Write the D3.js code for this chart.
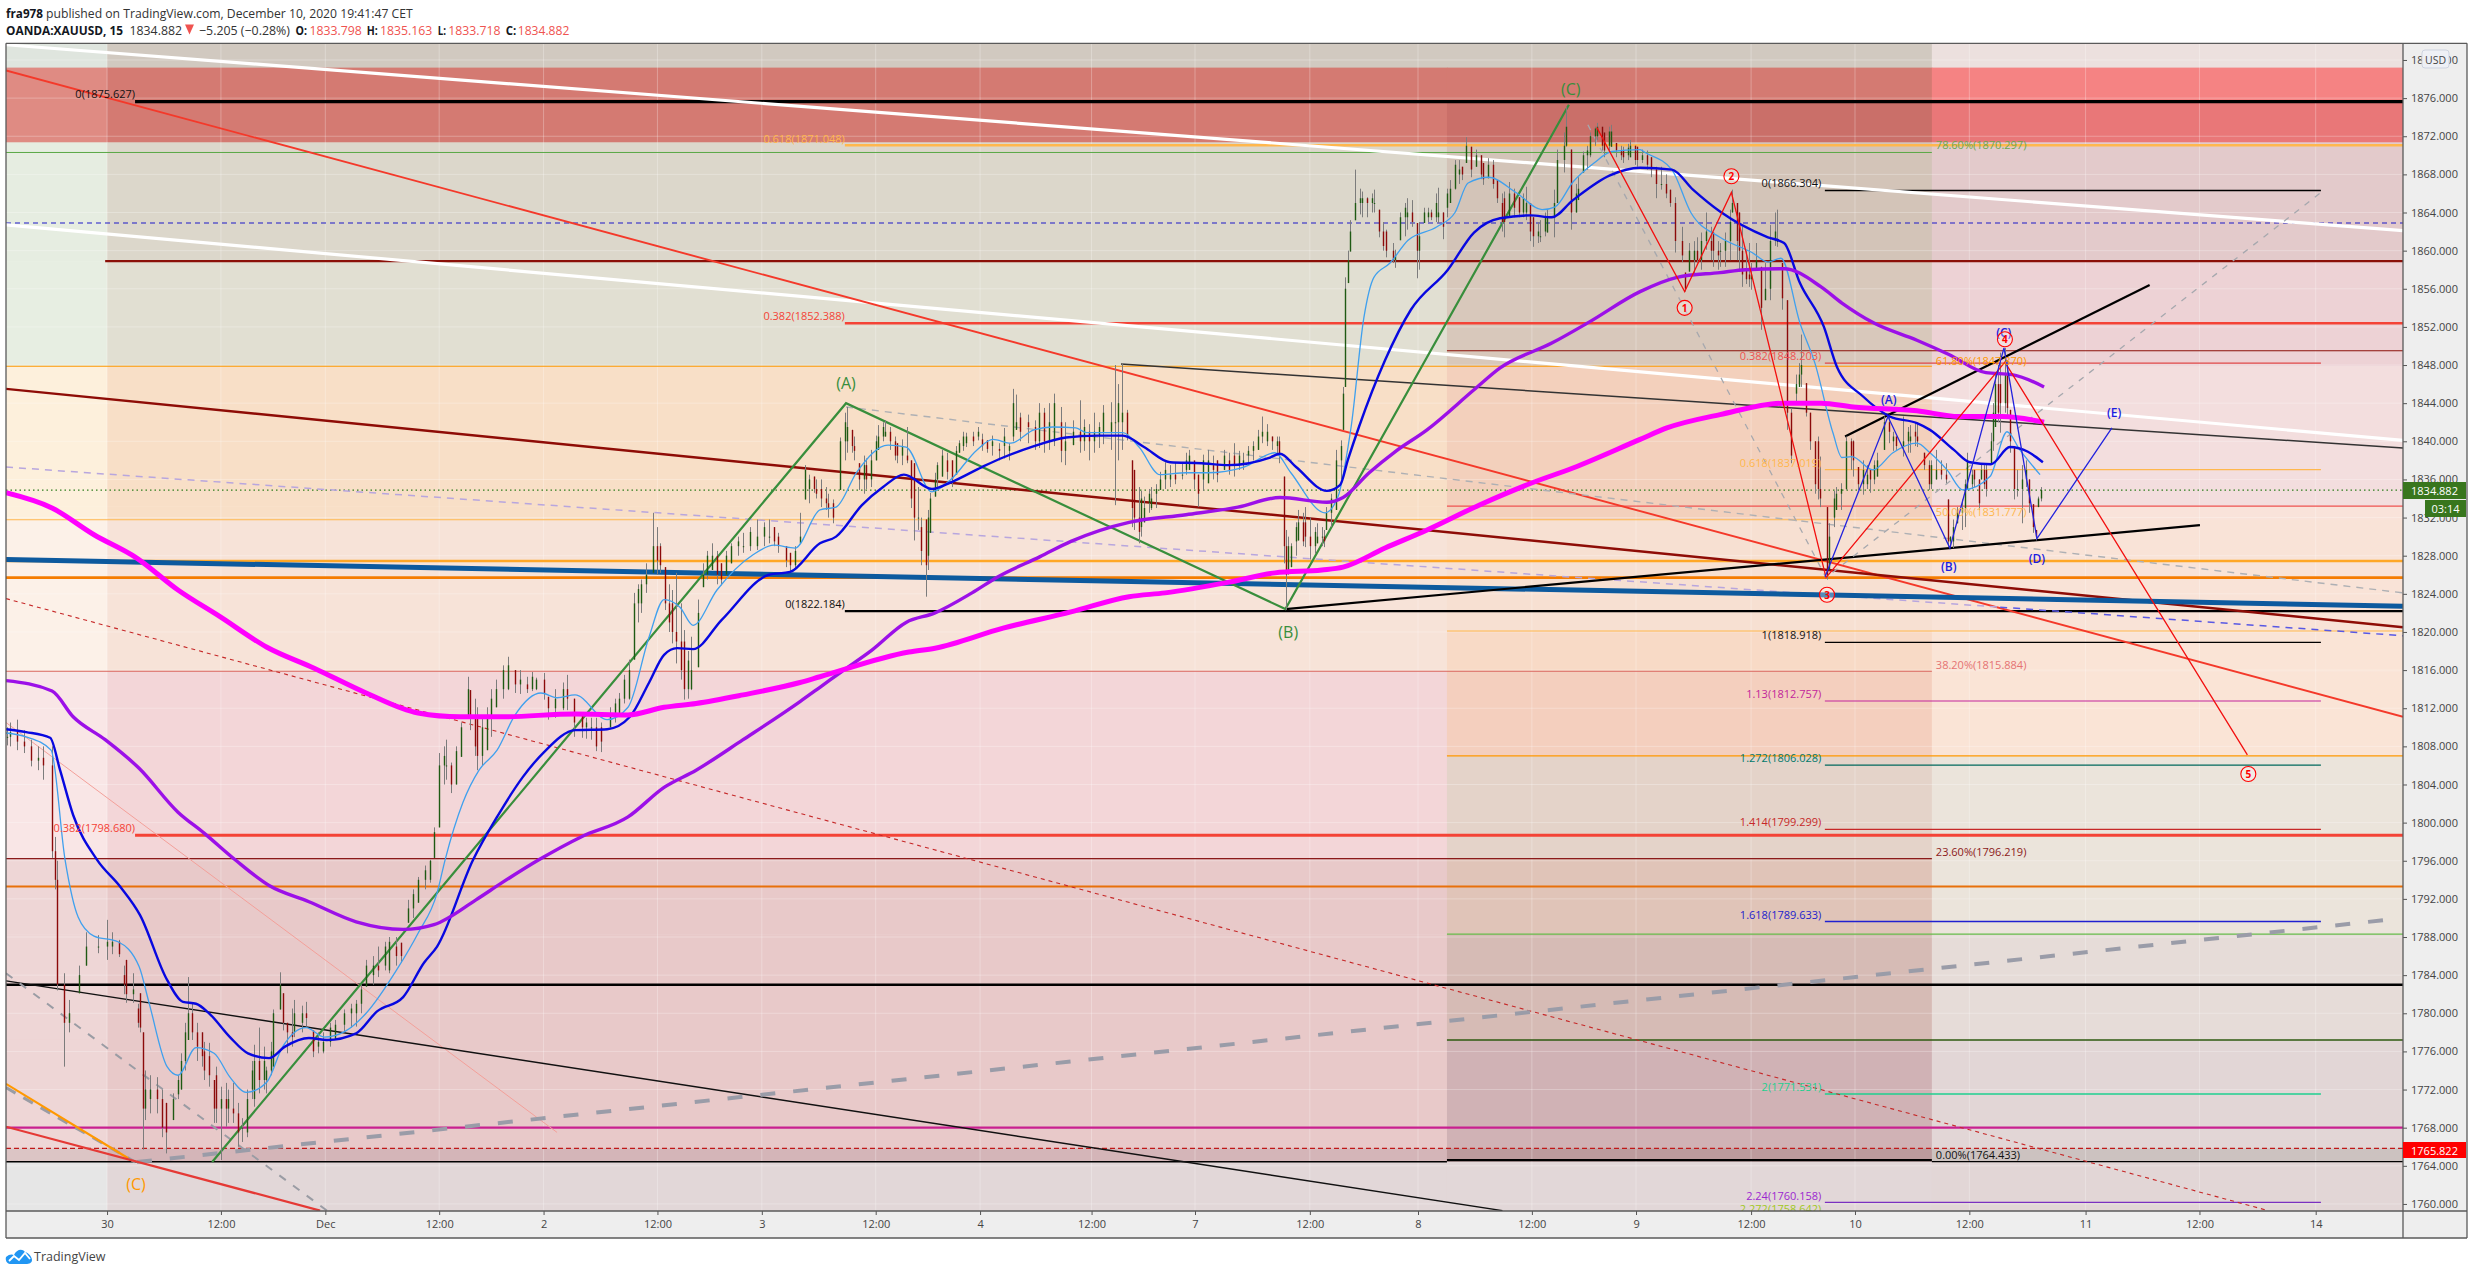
<!DOCTYPE html>
<html><head><meta charset="utf-8">
<script src="https://cdnjs.cloudflare.com/ajax/libs/d3/7.8.5/d3.min.js"></script>
<style>html,body{margin:0;padding:0;background:#fff;overflow:hidden}svg{display:block}text{font-family:"Open Sans",sans-serif}</style>
</head><body><svg id="c" width="2468" height="1275"></svg>
<script>
// ---------- axes ----------
const priceTicks=[1760,1764,1768,1772,1776,1780,1784,1788,1792,1796,1800,1804,1808,1812,1816,1820,1824,1828,1832,1836,1840,1844,1848,1852,1856,1860,1864,1868,1872,1876,1880];
const timeTickBars=[0,48,92,140,184,232,276,324,368,415,458.6,507,552.6,600.6,644.5,693,736.8,785,834,882,931];
const timeTickLabels=["30","12:00","Dec","12:00","2","12:00","3","12:00","4","12:00","7","12:00","8","12:00","9","12:00","10","12:00","11","12:00","14"];
// ---------- background zones ----------
const zoneBarBreaks=[-42.6,0,564.8,769.2,967.8];
const zonePriceBreaks=[1881.75,1879.2,1875.6,1871.36,1858.9,1847.87,1833.2,1831.78,1820.1,1815.88,1807,1796.22,1788.3,1777.2,1765.82,1764.43,1759.26];
const zoneColors=[
["#dfe5de","#d1c9c0","#d1c9c0","#ece0de"],
["#df8b83","#d47a72","#d47a72","#f58383"],
["#df8b83","#d47a72","#ca6f69","#e97778"],
["#e6ede1","#dcd7cb","#d3c4b8","#e3cacb"],
["#e7eee2","#e1dfd2","#d8c8bb","#edd2d5"],
["#fdf0dc","#f8dfc7","#f3d0bc","#f3dede"],
["#fdf0dc","#f8dfc7","#f3d0bc","#f9e3da"],
["#fcf1e8","#f7e3d8","#f7e0d2","#f9e3d7"],
["#fcf1e8","#f7e3d8","#f8dac6","#fae4d6"],
["#f9e6e6","#f3d6d8","#f4cfbe","#fae4d6"],
["#f9e6e6","#f3d6d8","#e4d3c9","#ebe4db"],
["#eed6d6","#e8c9c9","#e0c4b8","#ebe4db"],
["#eed6d6","#e8c9c9","#d6bbb5","#e6dcd8"],
["#eed6d6","#e8c9c9","#d0b2b5","#e2d6d6"],
["#dcc5c5","#d4b5b8","#bc9b9d","#ccc2c0"],
["#e6e6e6","#e2d7d8","#e2d7d8","#e2d6d6"]];
// ---------- horizontal levels: from bar, to bar, price, colour, width, dash ----------
const levels=[
[11.8,967.8,1875.627,"#000",3.2,""],
[311,967.8,1871.048,"#ffb74d",2.5,""],
[-42.6,769.2,1870.297,"#5aa845",1,""],
[-42.6,967.8,1862.9,"#1c18c8",1.2,"5 4"],
[-0.8,967.8,1858.9,"#8b1008",2.4,""],
[311,967.8,1852.388,"#f44336",2.4,""],
[564.8,967.8,1849.5,"#8b1008",1.2,""],
[724.1,933.2,1848.203,"#e04848",1.1,""],
[-42.6,769.2,1847.87,"#ff9800",1.1,""],
[724.1,933.2,1866.304,"#000",1.4,""],
[724.1,933.2,1837.019,"#ffb74d",1.2,""],
[-42.6,967.8,1834.882,"#2e7d1e",1.2,"1.5 3"],
[564.8,967.8,1833.2,"#ef5350",1.1,""],
[-42.6,769.2,1831.777,"#ffb74d",1.1,""],
[-42.6,967.8,1827.45,"#ffa726",2.6,""],
[-42.6,967.8,1825.7,"#f57c00",2.6,""],
[311,967.8,1822.184,"#000",2.2,""],
[564.8,967.8,1820.1,"#ffb74d",1.1,""],
[724.1,933.2,1818.918,"#000",1.3,""],
[-42.6,769.2,1815.884,"#d8645c",1.1,""],
[724.1,933.2,1812.757,"#c2259b",1.2,""],
[564.8,967.8,1807,"#ff9800",1.2,""],
[724.1,933.2,1806.028,"#00695c",1.3,""],
[724.1,933.2,1799.299,"#c62828",1.3,""],
[11.8,967.8,1798.68,"#f44336",3,""],
[-42.6,769.2,1796.219,"#8b1a1a",1.2,""],
[-42.6,967.8,1793.3,"#e8700a",2.2,""],
[724.1,933.2,1789.633,"#2020d0",1.4,""],
[564.8,967.8,1788.3,"#66bb4a",1.2,""],
[-42.6,967.8,1783,"#000",2.4,""],
[564.8,967.8,1777.2,"#2e5a10",1.4,""],
[724.1,933.2,1771.531,"#1fcf8f",1.4,""],
[-42.6,967.8,1768,"#c82090",2.2,""],
[-42.6,967.8,1765.822,"#c01818",1.2,"5 3"],
[-42.6,564.8,1764.433,"#000",1.4,""],
[564.8,769.2,1764.6,"#000",2.4,""],
[769.2,967.8,1764.433,"#000",1.2,""],
[724.1,933.2,1760.158,"#7b30c0",1.3,""]];
// ---------- sloped drawings ----------
const trendWhiteA=[[-42.6,1881.6],[967.8,1862.1]];
const trendWhiteB=[[-42.6,1862.7],[967.8,1840.1]];
const trendRedLong=[[-42.6,1878.9],[967.8,1811.1]];
const trendDarkRed=[[-42.6,1845.5],[967.8,1820.5]];
const trendSteel=[[-42.6,1827.6],[967.8,1822.7]];
const trendLavender=[[-42.6,1837.3],[798,1822.6]];
const trendLavenderBlue=[[798,1822.6],[967.8,1819.6]];
const trendGrayThin=[[311.5,1843.6],[967.8,1824.1]];
const trendRedDash=[[-42.6,1823.5],[911,1759.3]];
const trendPink=[[-42.6,1810.5],[189.7,1767.5]];
const trendBlackLow=[[-42.6,1783.4],[588.2,1759.3]];
const trendGrayDiag=[[-42.6,1784.2],[92.7,1759.3]];
const trendGrayWide=[[12.6,1764.4],[961,1789.8]];
const trendGrayUnder=[[-42.6,1772.2],[11.8,1764.4]];
const trendOrange=[[-42.6,1772.6],[8.9,1764.8]];
const trendRedLow=[[-42.6,1768.1],[89.8,1759.3]];
const trendBlackHigh=[[427.4,1848.1],[967.8,1839.3]];
const trendBlackB=[[496.7,1822.4],[882.2,1831.2]];
const trendBlackC=[[732.6,1840.5],[861,1856.4]];
const trendGrayV=[[624.2,1873.2],[724.6,1825.7],[933.2,1866.1]];
const waveGreen=[[44.3,1764.4],[311.5,1844],[496.7,1822.4],[616.2,1875.3]];
const waveRed=[[628,1872.9],[665,1855.7],[684.7,1866.1],[724.6,1825.7],[800,1848.3],[902.2,1807.1]];
const waveBlue=[[724.2,1825.8],[750.7,1842.6],[776.8,1828.8],[799.6,1849.8],[813.5,1829.8],[845.1,1841.4]];
// ---------- moving averages ----------
const maMagenta=[[-42.6,1834.6],[-23.2,1833],[-5.5,1830.2],[12.2,1827.8],[29.9,1824.4],[47.6,1821.6],[67.4,1818.4],[87.3,1816.2],[109.2,1813.6],[131.1,1811.5],[148.8,1811.1],[166.5,1811.1],[197.3,1811.4],[219.6,1811.3],[234.8,1812.1],[248.3,1812.5],[268.1,1813.4],[292.1,1814.7],[300.5,1815.3],[338,1817.9],[349,1818.3],[377.7,1820.4],[406.3,1822.1],[430.8,1823.7],[446,1824.1],[472.5,1825.2],[492.3,1826.2],[512.1,1826.5],[521,1826.8],[538.7,1828.8],[556.4,1830.7],[578.3,1833.3],[600.2,1835.6],[617.9,1837.2],[646.2,1840.2],[657.5,1841.4],[679.9,1842.8],[706.9,1844],[722.5,1844],[736,1843.6],[762.9,1843.2],[780.6,1842.6],[798.8,1842.6],[816.5,1842]];
const maPurple=[[-42.6,1814.9],[-23.2,1813.8],[-14.3,1811.1],[-0.8,1808.7],[13.5,1805.7],[29.9,1801.1],[40.9,1798.9],[54,1796.1],[68.3,1793.4],[85.1,1791.7],[105,1789.6],[124.8,1788.8],[137.8,1789.3],[155.5,1791.9],[166.5,1793.7],[182,1796.1],[199.8,1798.5],[219.6,1800.6],[234.8,1803.7],[248.3,1805.5],[268.1,1808.7],[292.1,1812.7],[300.5,1814.2],[309.4,1815.8],[322.4,1818.1],[336.8,1821],[349,1822],[364.6,1824.1],[375.6,1825.8],[393.3,1827.9],[406.3,1829.5],[430.8,1831.5],[454.8,1832.3],[476.7,1833.1],[494.4,1834.1],[514.2,1833.6],[521,1834.1],[532,1836.7],[542.9,1838.9],[556.4,1841.2],[576.2,1845.4],[587.2,1847.7],[609,1850.3],[624.7,1852.5],[646.2,1855.7],[661.8,1857.2],[679.9,1857.7],[690.8,1858],[706.9,1858.1],[722.5,1856.2],[731.3,1854.5],[744.8,1852.4],[762.9,1850.6],[776.4,1849.1],[792,1847.2],[803,1847],[816.5,1845.7]];
const maBlue=[[-42.6,1809.8],[-34.1,1809.5],[-24,1808.9],[-19.8,1805.5],[-14.3,1800.8],[-4.2,1796.1],[5.5,1793.3],[13.9,1790.3],[25.3,1783.5],[32,1781.2],[37.5,1781],[43,1780],[51.8,1777.5],[59.4,1775.8],[68.3,1775.3],[75,1776.5],[85.1,1777.4],[92.7,1777.2],[105,1777.9],[113.8,1780.2],[124.8,1781.7],[133.6,1785.3],[139.1,1787],[154.3,1796.1],[164.4,1800.6],[175.3,1804.8],[184.2,1807.4],[197.3,1809.7],[210.8,1809.8],[220.4,1811.1],[228.5,1814.7],[234.8,1817.6],[240.3,1818.3],[247,1818.2],[259.2,1821.3],[279,1826],[287.9,1826.3],[300.5,1829.3],[307.3,1830],[318.2,1833.3],[327.1,1835.2],[335.9,1836.5],[347.7,1835],[355.7,1835.7],[368.8,1837.3],[377.7,1838.3],[388.6,1839.3],[404.2,1840.4],[417.3,1840.6],[428.2,1840.6],[437.1,1839.4],[448.1,1837.8],[461.5,1837.7],[472.5,1837.5],[490.2,1838.3],[494.4,1838.7],[501.2,1837.3],[514.2,1834.8],[519.7,1835.4],[523.1,1838.1],[527.7,1841.5],[538.7,1848.5],[549.6,1853.8],[565.2,1858],[576.2,1861.9],[587.2,1863.4],[600.2,1863.7],[609,1863.5],[617.9,1865.3],[633.5,1867.9],[646.2,1868.7],[659.6,1868.5],[668.5,1866.4],[679.9,1864.1],[700.1,1861.4],[706.9,1860.8],[713.6,1856.6],[723.7,1852],[729.2,1847.8],[740.2,1844.7],[751.5,1842.6],[762.9,1841.9],[768.4,1841.2],[778.5,1839.1],[785.3,1837.8],[794.1,1837.6],[802.1,1839.4],[809.7,1838.9],[816,1837.8]];
const maSky=[[-42.6,1809.4],[-34.1,1809],[-23.6,1807.6],[-17.7,1796.1],[-12.2,1790.1],[-5.5,1788.1],[4.6,1787.5],[13.5,1784.9],[17.7,1781.1],[25.3,1774.4],[29.9,1773.5],[37.5,1776.4],[45.1,1775.8],[51.8,1773.3],[58.6,1771.7],[67.4,1772.8],[73.8,1776.4],[83.9,1778.5],[91.5,1777.5],[100.3,1778.1],[109.2,1780],[122.2,1784.6],[131.1,1788.4],[139.1,1792.6],[142.5,1796.1],[150,1802.1],[156.8,1805.5],[164.4,1807.6],[172,1811.3],[182.9,1813.6],[189.7,1813.1],[197.3,1813.4],[210.8,1810.8],[219.6,1812.1],[228.5,1819.5],[234.8,1823.4],[241.5,1822.6],[247,1820.7],[257.1,1824.4],[272.3,1828.1],[281.1,1829.1],[290,1828.8],[300.5,1832.8],[307.3,1833.1],[316.1,1836.8],[329.2,1839.6],[336.8,1839.4],[347.7,1834.7],[355.7,1836],[366.7,1839.1],[373.4,1840.2],[381,1839.8],[390.7,1841.2],[398.7,1841.5],[408.4,1841.4],[413,1840.9],[428.2,1840.9],[435,1839.4],[443.8,1836.5],[454.8,1836.7],[463.7,1836.7],[479.2,1837.3],[492.3,1838.8],[499,1836.7],[513.4,1832.5],[518.9,1834.2],[523.1,1839.4],[524.4,1841.5],[529.8,1853],[534,1857.2],[540.8,1858.7],[548.4,1861.1],[560.6,1862.5],[568.2,1864],[573.7,1867.1],[582.5,1867.7],[593.9,1866.1],[604.9,1864.3],[610.4,1864.6],[617.9,1867.2],[626.8,1869.2],[634.3,1870.4],[646.2,1870.6],[648.3,1870.3],[659.6,1868.5],[667.6,1864],[679.9,1861.4],[693.4,1859.8],[700.1,1858.8],[705.6,1859.2],[713.6,1852.4],[719.9,1848.2],[727.5,1840.9],[731.3,1838.3],[735.5,1838.4],[744.4,1837],[752.8,1838.8],[762.9,1839.8],[768.4,1838.8],[775.6,1837],[782.3,1834.9],[793.7,1836.3],[800.9,1841],[806.3,1839.1],[814.8,1836.5]];
// ---------- candles ----------
const candleBars=[-42,-41,-38,-35,-32,-29,-27,-23,-22,-21,-18,-16,-12,-9,-4,0,5,8,11,14,15,16,21,25,28,31,34,36,40,43,46,48,50,53,55,59,62,64,67,70,73,74,76,79,84,87,91,96,100,105,109,114,119,124,127,131,136,138,140,143,145,149,152,153,156,160,164,169,172,177,181,184,186,192,194,200,204,208,212,216,220,222,225,227,230,233,235,238,240,243,246,249,251,255,259,263,268,274,279,283,288,292,294,298,301,303,306,309,312,314,317,322,325,328,330,333,337,340,342,345,347,349,352,356,359,362,367,371,376,380,383,388,391,397,402,407,410,416,423,425,428,430,433,435,437,440,444,448,453,456,460,464,468,471,475,479,485,487,491,494,496,497,499,502,505,507,510,513,514,518,520,521,522,523,524,526,529,531,534,536,539,542,543,545,548,550,552,555,558,561,563,566,568,571,573,575,577,580,582,586,589,591,595,598,601,604,607,610,611,614,615,617,620,622,625,628,631,634,636,639,642,645,647,651,653,655,659,661,664,665,667,670,672,674,677,680,682,684,685,688,689,692,693,695,697,699,701,704,706,708,710,713,714,716,718,721,722,725,726,729,731,733,736,738,740,743,746,749,751,754,757,760,763,766,768,771,773,775,776,778,780,782,784,787,789,790,792,794,796,798,800,801,802,804,805,807,809,810,812,813,814,815];
const candleHighs=[1810,1810.5,1810.8,1809.7,1808.7,1808,1808,1808,1798.5,1796,1784.2,1781.4,1785,1788.5,1788.2,1789.8,1787.7,1785.6,1784.2,1782.1,1778,1774,1773.3,1770.6,1771.6,1775.8,1783.8,1781.1,1778,1776.9,1774.4,1772.3,1772.7,1772.7,1770.6,1772,1776.7,1778.5,1774.4,1780.4,1784.3,1782.1,1779,1781.4,1781.2,1778.2,1778,1779.3,1780.4,1781.4,1785.6,1787,1788,1787.4,1791.9,1794.3,1796.1,1799.5,1807.3,1808.7,1806.3,1810.5,1815.3,1813.9,1812.1,1812.1,1815,1817.4,1816,1815.3,1815.2,1815.7,1813.2,1814.7,1815.5,1811.5,1811,1810.5,1812.1,1813.6,1817.1,1824.1,1825.5,1827.2,1832.5,1829.3,1826.8,1824.4,1826.2,1820.2,1819.5,1823.4,1827.2,1829.3,1827.2,1829.3,1830.4,1831.8,1831.8,1830.4,1828.3,1832.5,1837.5,1836.3,1836,1835.2,1833.9,1840.4,1843.6,1841.2,1837.7,1839.1,1841.7,1842.2,1841.5,1839.8,1841.5,1837.7,1835.2,1831.8,1834.6,1836.7,1839.1,1838,1840.1,1840.9,1841.5,1840.1,1839.8,1839.8,1844.9,1842.8,1842.2,1844,1843.6,1842.2,1844.3,1843,1844.1,1848,1848.2,1843.3,1837,1835.2,1834.2,1835.2,1836.8,1837.5,1837.7,1839.1,1836.5,1839.1,1838,1839.1,1839.8,1838.8,1841.2,1842.6,1840.5,1840.5,1836.3,1830.7,1829.3,1832.8,1833.1,1832,1831.4,1830.7,1833.1,1839.1,1840.1,1845.7,1857.2,1860,1863.2,1868.5,1866.2,1865.6,1866.4,1864.3,1862.2,1860.8,1860.1,1864,1865.5,1865.3,1862.9,1864.5,1864.3,1866.6,1864,1867.4,1869.5,1868.8,1871.9,1870.9,1870.6,1869.2,1869.7,1867.4,1866.2,1867.2,1865.6,1866.7,1863.5,1863.2,1864.3,1866.4,1870.6,1872.4,1875.1,1870.6,1867.7,1870.4,1872.4,1873.4,1872.4,1873.2,1871.3,1870.9,1871.6,1870.9,1870.6,1869.8,1868.8,1868.8,1866.4,1865.6,1862.5,1857.7,1860.8,1861.4,1861.9,1864,1861.9,1860.8,1861.9,1864.3,1866.4,1864,1862.5,1860.8,1858.7,1860.8,1858.3,1858.7,1862.7,1864.3,1858.7,1854.8,1843.5,1848.2,1851.2,1846.1,1843,1840.5,1838.4,1833.1,1831.4,1835.2,1835.6,1840.5,1840.1,1837.3,1838,1837,1838.8,1842.6,1842.8,1840.5,1842.6,1841.7,1841.9,1838.8,1838,1839.1,1838,1837.7,1833.9,1831.8,1833.1,1833.9,1838.8,1837,1836,1837.7,1837.7,1840.9,1847,1849.3,1849.8,1848.5,1843.3,1839.4,1837,1837.5,1838,1836,1833.4,1830.7,1834.2,1835.2];
const candleLows=[1808.1,1808,1807.6,1807.3,1805.9,1805.5,1804.5,1796.3,1793,1782.4,1774.4,1778,1782.1,1785,1786.3,1785.6,1785.9,1781.1,1781.1,1778,1765.7,1768.8,1769.5,1765.3,1768.8,1772,1777.2,1777.2,1774.4,1772.3,1768.5,1764.6,1768.1,1768.5,1766,1767,1770.2,1771.6,1771.6,1774.4,1780.4,1778.2,1775.8,1777.5,1778.6,1775.4,1775.8,1777.2,1778,1778.6,1782.8,1783.8,1784.2,1785.3,1789.5,1791.6,1793.7,1796.3,1799.5,1804.5,1803.1,1806.9,1811.1,1809.7,1805.5,1807.6,1812.1,1813.9,1813.6,1813.6,1813.9,1812.9,1810.8,1811.8,1811.8,1808.9,1808.7,1807.4,1810,1811.1,1812.9,1817.1,1822,1824.1,1826.2,1826.2,1822.3,1818.8,1816.7,1812.9,1813.9,1816.3,1824.7,1826.5,1824.9,1827.2,1828.3,1828.6,1829.3,1828.3,1826.3,1829.3,1833.9,1834.6,1833.1,1832.8,1831.4,1834.9,1838.8,1838.8,1834.9,1835.2,1839.1,1840.5,1839.1,1837.7,1837.7,1829.6,1830.7,1823.7,1830.4,1834.2,1836.3,1835.2,1838.8,1839.4,1840.1,1838.8,1838,1838,1841.2,1839.8,1839.1,1839.1,1837.8,1839.6,1838.8,1838.8,1839.1,1833.3,1839.1,1840.1,1830.7,1829.3,1831.5,1832.8,1834.9,1835.2,1836,1837,1833.1,1835.6,1835.7,1837,1836.3,1837,1839.1,1839.8,1839.1,1837.7,1827.2,1822.3,1826.8,1829.6,1828.9,1827.6,1829.3,1828.9,1830.7,1832.8,1836,1841.2,1845.7,1856.6,1859.9,1863.2,1863.5,1863.5,1864,1861.4,1859.3,1858.7,1858.2,1861.1,1862.2,1862.5,1857.1,1862.9,1863.2,1862.9,1861.2,1865,1866.4,1867.4,1869.2,1867.7,1868.8,1866.9,1867.6,1865,1861.4,1863.5,1863.5,1863.2,1860.4,1860.9,1861.9,1861.4,1865,1868.2,1870.9,1862.2,1865.3,1868.2,1869.8,1871.6,1869.8,1870.9,1869.8,1869.2,1869.8,1868.8,1869.2,1867.7,1865.5,1866.4,1864.6,1859.8,1858.8,1855.7,1857.8,1858.7,1858,1860.1,1858.3,1858.3,1858.3,1859,1864,1858,1856.2,1856.2,1855.9,1858,1851.7,1854.8,1854.8,1860.4,1853.8,1841.2,1837.7,1845.7,1845.7,1842.6,1839.1,1833.9,1833.1,1825.5,1826.5,1832.8,1832.8,1834.9,1836.3,1834.9,1834.4,1834.6,1836.3,1839.1,1839.8,1839.1,1838.4,1838.8,1839.4,1837,1834.9,1836,1836,1835.6,1828.9,1828.8,1831.4,1830.7,1834.9,1835.2,1832.8,1836,1834.2,1837.7,1841.5,1840.9,1843,1842.6,1838.8,1833.9,1834.2,1831.4,1835.2,1832.5,1830.4,1829.6,1833.1,1833.7];
const candleCloses=[1809,1809.5,1808.5,1808,1806.5,1806.8,1806,1797,1794,1783,1779,1780,1784,1787,1787,1787.5,1786.2,1782,1782.5,1778.5,1770,1772,1771,1767.5,1771,1775,1780,1778,1775.5,1773.5,1770,1771,1770,1769.5,1767.5,1771,1775,1773,1774,1780,1783,1779,1778,1780,1779.5,1776,1777,1778.8,1780,1781,1785,1784.5,1787.5,1786,1791,1794,1796,1799,1806,1806,1804,1810,1814,1811,1807,1811,1814,1816.5,1814.5,1814,1815,1813.5,1812,1814,1813,1810,1810,1808.5,1811.5,1813,1816,1823,1825,1826,1829,1827,1823,1820,1819,1814,1816,1822,1826,1828,1825.5,1829,1829,1830,1830,1829,1827,1830,1837,1835,1834,1833.5,1832,1840,1841.5,1839.5,1836,1838,1840.5,1841,1840,1838.5,1838,1832,1832,1827,1834,1836,1838.5,1836,1839.8,1840.5,1841,1839.2,1839,1839.5,1842,1841.5,1840,1842,1839,1841,1840,1841,1842,1842,1843,1840.5,1832,1830.5,1833,1834,1836,1836.5,1836.5,1838.5,1834.5,1838,1836.5,1838.5,1837.5,1838,1840.5,1841,1840,1838.5,1829,1826,1829,1831.5,1830,1829,1830,1829.5,1832.5,1838,1839.5,1845,1856,1859,1862,1865,1865.5,1865,1865,1862,1860,1859,1859.5,1863.5,1864,1863,1860,1864,1863.5,1864,1862.5,1866.5,1869,1868,1871,1868.5,1870,1867.5,1869,1865.5,1863,1866,1864,1865,1861.5,1861.5,1863.5,1865,1869.5,1871,1873,1864,1866.5,1870,1872,1873,1870.5,1872.5,1870.5,1869.8,1871,1869.5,1870,1868.5,1867,1867,1865,1861,1859.5,1856,1860,1859,1861,1862,1860,1860,1861,1863,1865,1860,1857.5,1857,1857.5,1859,1854,1856,1861,1861,1855,1843,1838.5,1847,1848,1843,1840,1835,1834,1826,1830,1834.5,1835,1840,1838,1835.5,1837,1836,1838,1842,1841,1839.5,1840,1840.5,1840,1837.5,1835.5,1837,1836.5,1836,1829.5,1831,1832.5,1833,1838,1836,1833.5,1837,1835,1840,1846,1844,1847,1843.5,1840,1835,1835,1836,1837,1833.5,1831,1830,1834,1834.9];
// further candles: bar, high, low, open, close
const candleFill=[[2,1788.5,1786.2,1787,1787.5],[7,1785,1782,1784,1783],[13,1781,1778.5,1780.5,1779],[18,1773.5,1769.5,1771,1772],[23,1772,1767,1771,1768],[30,1773.5,1771,1771.5,1773],[33,1779,1774,1775,1778],[38,1779,1775,1778,1776.5],[41,1777,1773,1776,1774],[45,1773,1768.5,1773,1770],[51,1772,1768.5,1770,1771],[57,1769,1766.5,1768,1768],[61,1775,1771,1772,1774],[66,1776.5,1772,1773,1775],[69,1777,1773.5,1774,1776],[78,1780.5,1776.5,1778,1777.5],[82,1780.8,1778,1779,1780],[89,1778,1775.8,1776.5,1777],[94,1779,1776.5,1777,1778.5],[103,1781,1778.5,1780,1780.5],[107,1783,1780,1781,1782.5],[112,1786,1783,1784,1785],[117,1787.5,1784.5,1785,1787],[122,1788,1785,1787,1786],[129,1793,1790,1791,1792.5],[134,1795.5,1793,1794,1795],[142,1808,1804,1806,1807],[147,1808,1804,1804,1807.5],[155,1813,1807,1811,1808],[158,1811,1806,1807,1810],[162,1814,1809,1811,1813],[167,1816.5,1813,1814,1816],[174,1816,1813.5,1814.5,1815],[179,1815.8,1813.8,1814,1815.3],[189,1814,1811,1812,1813],[197,1813,1809,1813,1810.5],[202,1811,1808.8,1810,1810.5],[206,1811,1807.5,1810,1808],[214,1813,1810.5,1811.5,1812.5],[218,1815.5,1812.5,1813,1815],[224,1825,1821,1823,1824.5],[232,1831,1826,1829,1827.5],[237,1825,1820,1823,1821],[242,1823,1815,1819,1816],[245,1818,1813,1814,1817],[253,1828.5,1825.5,1826,1828],[257,1828.5,1825,1828,1826],[261,1828.5,1826,1826,1828],[266,1830,1828,1829,1829.5],[271,1831,1828.5,1829,1830.5],[277,1831.5,1829,1830,1831],[281,1831,1829,1831,1829.5],[286,1829,1826.8,1829,1827.5],[290,1829,1826.5,1827,1828.5],[296,1836.5,1833.5,1835,1836],[299,1836,1834,1835,1834.5],[304,1834.5,1832,1833.5,1833],[311,1843,1838,1840,1842],[315,1840.5,1838,1839.5,1839],[319,1838.5,1834.5,1836,1837.5],[320,1838.2,1835,1837.5,1836],[324,1840.6,1838,1838,1840],[327,1842,1840,1840.5,1841.5],[332,1840.5,1838,1840,1838.5],[335,1840.2,1837.5,1838.5,1839.5],[339,1838,1833,1838,1834],[343,1832,1827,1831,1828.5],[346,1832.8,1826.5,1828,1832],[350,1837.8,1835,1836,1837.5],[354,1838.8,1836,1838,1836.8],[358,1839.5,1837,1836.5,1839],[361,1841,1839,1839.5,1840.5],[365,1841,1839.5,1840.5,1840],[369,1840.8,1839,1840.2,1839.5],[373,1840.6,1838.5,1839.5,1840],[378,1841.4,1838.2,1839.5,1840.5],[382,1845.5,1840,1840.5,1844],[385,1843,1840,1842.5,1841],[393,1844,1839.3,1840,1843],[395,1843.5,1838.8,1843,1840],[399,1845,1839.5,1840,1844],[404,1842,1837.5,1839,1840],[412,1842.3,1839,1840,1841.5],[414,1841.8,1838,1841,1840],[418,1842,1839.3,1840.5,1841.5],[420,1843.8,1839.7,1841,1843],[426,1846,1838,1842,1844],[432,1838,1831,1838,1833],[436,1834.8,1830,1831,1834],[439,1835,1832.5,1833.5,1834.5],[442,1835.5,1833,1834.5,1835],[446,1837.8,1835,1836,1837],[450,1837.8,1835.5,1836.5,1836],[455,1838.8,1836.5,1837,1838],[458,1837.5,1835,1838,1836],[462,1838.6,1834.8,1836,1838],[466,1838.5,1836,1837.5,1837],[473,1838.8,1836.5,1838,1837],[477,1839,1837,1837.5,1838.5],[481,1839.5,1837.5,1838.5,1839],[483,1840,1838,1839,1839.5],[489,1841.8,1839.5,1840,1841],[493,1840.5,1838.5,1839.5,1840],[498,1830,1826,1826.5,1829],[501,1831.5,1828,1829.5,1831],[504,1832.5,1829,1831.5,1829.5],[509,1831,1828.2,1829,1830.5],[512,1831,1829,1830,1830],[516,1834.5,1831,1832.5,1834],[528,1866.5,1863.8,1865,1865.5],[533,1866,1864,1865,1865.5],[538,1863,1860,1862,1860.5],[547,1865,1861.5,1863.5,1864.5],[553,1863,1858,1860,1861.5],[557,1864.5,1863,1863.5,1864],[560,1866,1863,1863.5,1865],[565,1866.5,1863.5,1864.5,1866],[570,1869.5,1867,1868,1868.5],[579,1870,1867.5,1870,1868],[584,1869.5,1866.5,1869,1867],[588,1866,1862,1865,1863],[593,1866.5,1863.5,1866,1864.5],[597,1866,1863.5,1864,1865.5],[600,1865,1861,1865,1862],[603,1863,1860.8,1861.5,1862],[606,1864,1861.5,1862,1863.5],[619,1867,1864,1864,1866],[624,1871,1868.5,1870,1870.5],[627,1873,1871,1872,1872.8],[630,1873,1870.5,1873,1871],[633,1873,1870.5,1871,1872.5],[638,1871,1869.5,1870.5,1870],[641,1871.2,1869.5,1870,1870.8],[644,1871,1869,1871,1869.5],[649,1870.5,1868.5,1870,1869],[657,1868,1865.5,1867,1866],[669,1861,1857.5,1859,1860],[676,1862.5,1859,1861,1860],[679,1861,1858,1860,1859.5],[687,1865,1859,1865,1861],[691,1860,1856.5,1858,1857],[703,1864,1860.5,1861,1862],[712,1847,1844,1845,1846],[720,1840,1834.5,1840,1835.5],[728,1834.8,1831,1832,1834],[735,1840.3,1837,1840,1838.5],[742,1837.5,1835,1835.5,1836.5],[745,1838,1835.5,1836,1837.5],[753,1841,1839,1840,1840.5],[759,1841.5,1838.8,1840,1841],[762,1841.9,1839.5,1841,1840.5],[769,1838,1835,1835.5,1837.5],[777,1830,1828.9,1829.5,1830],[783,1836,1831,1833,1835.5],[786,1837,1835,1835.5,1836.5],[791,1837.5,1835,1837,1835.5],[795,1844,1839,1840,1843],[797,1848,1842,1846,1843]];
// ---------- labels ----------
const fibLabelsRight=[["0(1875.627)",11.8,1876.5,"#111"],["0.382(1798.680)",11.8,1799.5,"#f44336"],["0.618(1871.048)",311,1871.8,"#ffb74d"],["0.382(1852.388)",311,1853.2,"#f44336"],["0(1822.184)",311,1823,"#111"],["0(1866.304)",722.6,1867.1,"#111"],["0.382(1848.203)",722.6,1849,"#ef5350"],["0.618(1837.019)",722.6,1837.8,"#ffb74d"],["1(1818.918)",722.6,1819.7,"#111"],["1.13(1812.757)",722.6,1813.5,"#c2259b"],["1.272(1806.028)",722.6,1806.8,"#00796b"],["1.414(1799.299)",722.6,1800.1,"#c62828"],["1.618(1789.633)",722.6,1790.4,"#2222cc"],["2(1771.531)",722.6,1772.3,"#1fcf8f"],["2.24(1760.158)",722.6,1760.9,"#9c27d0"],["2.272(1758.642)",722.6,1759.5,"#a0c820"]];
const fibLabelsLeft=[["78.60%(1870.297)",1871.1,"#6aa84f"],["61.80%(1847.870)",1848.5,"#ff9800"],["50.00%(1831.777)",1832.6,"#ffb74d"],["38.20%(1815.884)",1816.6,"#e57373"],["23.60%(1796.219)",1797,"#8b1a1a"],["0.00%(1764.433)",1765.2,"#111"]];
const waveText=[["(A)",311.5,1846.1,"#388e3c",16],["(B)",497.9,1820,"#388e3c",16],["(C)",617,1877,"#388e3c",16],["(C)",12.2,1762.1,"#ff9800",16],["(A)",751,1844.4,"#1c1ce0",12],["(B)",776.3,1826.9,"#1c1ce0",12],["(C)",799.5,1851.4,"#1c1ce0",12],["(D)",813.5,1827.7,"#1c1ce0",12],["(E)",846,1843,"#1c1ce0",12]];
const circled=[["1",665,1854],["2",684.7,1867.8],["3",725,1823.9],["4",800,1850.7],["5",902.6,1805.1]];

const svg=d3.select("#c");
const x=d3.scaleLinear().domain([-42.6,967.8]).range([6,2403]);
const y=d3.scaleLinear().domain([1759.26,1881.75]).range([1211,43.3]);
const defs=svg.append("defs");
defs.append("clipPath").attr("id","plot").append("rect").attr("x",6).attr("y",43.3).attr("width",2397).attr("height",1167.7);

const plot=svg.append("g").attr("clip-path","url(#plot)");
// zones
zoneColors.forEach((row,r)=>row.forEach((col,c)=>{
  plot.append("rect").attr("x",x(zoneBarBreaks[c])).attr("y",y(zonePriceBreaks[r]))
    .attr("width",x(zoneBarBreaks[c+1])-x(zoneBarBreaks[c])+0.5)
    .attr("height",y(zonePriceBreaks[r+1])-y(zonePriceBreaks[r])+0.5).attr("fill",col);
}));
// grid
plot.selectAll("line.gv").data(timeTickBars).join("line").attr("x1",d=>x(d)).attr("x2",d=>x(d)).attr("y1",43).attr("y2",1211).attr("stroke","#fff").attr("stroke-opacity",.28);
plot.selectAll("line.gh").data(priceTicks).join("line").attr("x1",6).attr("x2",2403).attr("y1",d=>y(d)).attr("y2",d=>y(d)).attr("stroke","#fff").attr("stroke-opacity",.28);
// levels
plot.selectAll("line.lv").data(levels).join("line").attr("x1",d=>x(d[0])).attr("x2",d=>x(d[1])).attr("y1",d=>y(d[2])).attr("y2",d=>y(d[2])).attr("stroke",d=>d[3]).attr("stroke-width",d=>d[4]).attr("stroke-dasharray",d=>d[5]);
// sloped
const ln=d3.line().x(d=>x(d[0])).y(d=>y(d[1]));
function draw(g,pts,color,w,dash,op){g.append("path").attr("d",ln(pts)).attr("fill","none").attr("stroke",color).attr("stroke-width",w).attr("stroke-dasharray",dash||null).attr("stroke-opacity",op||1);}
draw(plot,trendWhiteA,"#fff",3.2);
draw(plot,trendWhiteB,"#fff",3.2);
draw(plot,trendRedLong,"#f4392a",1.9);
draw(plot,trendDarkRed,"#8e0c06",2.4);
draw(plot,trendLavender,"#b8a6de",1.5,"7 6");
draw(plot,trendLavenderBlue,"#5858e4",1.5,"7 6");
draw(plot,trendGrayThin,"#aeb0b4",1.4,"7 6");
draw(plot,trendRedDash,"#c62828",1.1,"4 4");
draw(plot,trendPink,"#f3a09a",1);
draw(plot,trendBlackLow,"#111",1.4);
draw(plot,trendGrayDiag,"#9a9ca4",2,"8 9");
draw(plot,trendGrayWide,"#9a9ca8",4,"15 18");
draw(plot,trendGrayUnder,"#9a9ca4",3,"11 9");
draw(plot,trendOrange,"#ff9800",2.2);
draw(plot,trendRedLow,"#e53935",2.2);
draw(plot,trendSteel,"#0d5a9e",5);
draw(plot,trendBlackHigh,"#333",1.5);
draw(plot,trendBlackB,"#000",2.2);
draw(plot,trendBlackC,"#000",2.2);
draw(plot,trendGrayV,"#a6a8ae",1.3,"6 7");
draw(plot,waveGreen,"#388e3c",2.2);
// candles
const candles=candleBars.map((b,i)=>{
  const h=candleHighs[i],l=candleLows[i],c=candleCloses[i];
  const prev=i?candleCloses[i-1]:c;
  const o=Math.min(h,Math.max(l,prev));
  return {b,h,l,c,o};
}).concat(candleFill.map(r=>({b:r[0],h:r[1],l:r[2],o:r[3],c:r[4]})));
const cg=plot.append("g");
cg.selectAll("line.w").data(candles).join("line").attr("x1",d=>Math.round(x(d.b))+.5).attr("x2",d=>Math.round(x(d.b))+.5).attr("y1",d=>y(d.h)).attr("y2",d=>y(d.l)).attr("stroke","#7c7c7c").attr("stroke-width",1);
cg.selectAll("line.b").data(candles).join("line").attr("x1",d=>Math.round(x(d.b))+.5).attr("x2",d=>Math.round(x(d.b))+.5).attr("y1",d=>y(d.o)).attr("y2",d=>y(d.c)===y(d.o)?y(d.c)+1:y(d.c)).attr("stroke",d=>d.c>=d.o?"#1f5a14":"#8b0a0a").attr("stroke-width",1.4);
// MAs
const curve=d3.line().x(d=>x(d[0])).y(d=>y(d[1])).curve(d3.curveMonotoneX);
function ma(pts,color,w){plot.append("path").attr("d",curve(pts)).attr("fill","none").attr("stroke",color).attr("stroke-width",w).attr("stroke-linejoin","round");}
ma(maSky,"#3fa0ee",1.3);
ma(maBlue,"#0808e0",2.4);
ma(maPurple,"#9c10e8",3.4);
ma(maMagenta,"#ff00ff",5);
// wave lines over series
draw(plot,waveRed,"#f20f0f",1.3);
draw(plot,waveBlue,"#2222dd",1.3);

// text on plot
const tg=svg.append("g").attr("clip-path","url(#plot)");
tg.selectAll("text.fr").data(fibLabelsRight).join("text").attr("x",d=>x(d[1])).attr("y",d=>y(d[2])).attr("text-anchor","end").attr("dominant-baseline","central").attr("font-size",11).attr("fill",d=>d[3]).text(d=>d[0]);
tg.selectAll("text.fl").data(fibLabelsLeft).join("text").attr("x",x(769.2)+4).attr("y",d=>y(d[1])).attr("dominant-baseline","central").attr("font-size",11).attr("fill",d=>d[2]).text(d=>d[0]);
tg.selectAll("text.wv").data(waveText).join("text").attr("x",d=>x(d[1])).attr("y",d=>y(d[2])).attr("text-anchor","middle").attr("dominant-baseline","central").attr("font-size",d=>d[4]).attr("font-weight",d=>d[4]>12?400:600).attr("fill",d=>d[3]).text(d=>d[0]);
const cc=tg.selectAll("g.cc").data(circled).join("g").attr("transform",d=>`translate(${x(d[1])},${y(d[2])})`);
cc.append("circle").attr("r",7.5).attr("fill","#fff").attr("fill-opacity",.3).attr("stroke","#f00").attr("stroke-width",1.1);
cc.append("text").attr("text-anchor","middle").attr("dominant-baseline","central").attr("font-size",10).attr("font-weight",700).attr("fill","#f00").text(d=>d[0]);

// axis panels
svg.append("rect").attr("x",2403).attr("y",43).attr("width",64).attr("height",1195).attr("fill","#eeeeee");
svg.append("rect").attr("x",6).attr("y",1211).attr("width",2461).attr("height",27).attr("fill","#eeeeee");
const ay=svg.append("g").attr("transform","translate(2403,0)").call(d3.axisRight(y).tickValues(priceTicks).tickFormat(d3.format(".3f")).tickSize(4).tickPadding(4));
ay.select(".domain").remove();
ay.selectAll("line").attr("stroke","#555");
ay.selectAll("text").attr("font-size",11).attr("fill","#444").attr("font-family","Open Sans");
const tickText=new Map(timeTickBars.map((b,i)=>[b,timeTickLabels[i]]));
const ax=svg.append("g").attr("transform","translate(0,1211)").call(d3.axisBottom(x).tickValues(timeTickBars).tickFormat(d=>tickText.get(d)).tickSize(4).tickPadding(5));
ax.select(".domain").remove();
ax.selectAll("line").attr("stroke","#555");
ax.selectAll("text").attr("font-size",11).attr("fill","#444").attr("font-family","Open Sans");
// frame
const frame=[[6,43.3,2467,43.3],[6,43.3,6,1238],[6,1238,2467,1238],[2467,43.3,2467,1238],[2403,43.3,2403,1238],[6,1211,2467,1211]];
svg.selectAll("line.fr").data(frame).join("line").attr("x1",d=>d[0]).attr("y1",d=>d[1]).attr("x2",d=>d[2]).attr("y2",d=>d[3]).attr("stroke","#5a5a5a").attr("stroke-width",1.3);
// USD button
svg.append("rect").attr("x",2422).attr("y",50).attr("width",27).attr("height",18).attr("rx",3).attr("fill","#eef0f5").attr("stroke","#cdd3e0");
svg.append("text").attr("x",2435.5).attr("y",59.5).attr("text-anchor","middle").attr("dominant-baseline","central").attr("font-size",10.5).attr("fill","#444").text("USD");
// price tags
function tag(x0,y0,w,h,fill,t,cx){svg.append("rect").attr("x",x0).attr("y",y0).attr("width",w).attr("height",h).attr("fill",fill);
 svg.append("text").attr("x",cx).attr("y",y0+h/2).attr("text-anchor","middle").attr("dominant-baseline","central").attr("font-size",11).attr("fill","#fff").text(t);}
tag(2403,482,63,17,"#38761d",d3.format(".3f")(1834.882),2434.5);
tag(2425,500,41,17,"#38761d","03:14",2445.5);
tag(2403,1142,63,16,"#ff0000",d3.format(".3f")(1765.822),2434.5);

// header
const H1=[["fra978",6,700,"#131722",37],["published on TradingView.com, December 10, 2020 19:41:47 CET",46,400,"#333",366.7]];
const H2=[["OANDA:XAUUSD, 15",6,700,"#131722",117],["1834.882",129.5,400,"#333",52.5],["−5.205 (−0.28%)",199,400,"#333",91],["O:",295.5,700,"#131722",11.5],["1833.798",309.5,400,"#ef5350",52.3],["H:",366.7,700,"#131722",11],["1835.163",380,400,"#ef5350",52.3],["L:",437.7,700,"#131722",8.3],["1833.718",448.3,400,"#ef5350",52.3],["C:",505.7,700,"#131722",10.5],["1834.882",517.8,400,"#ef5350",51.5]];
svg.selectAll("text.h1").data(H1).join("text").attr("x",d=>d[1]).attr("y",12.5).attr("dominant-baseline","central").attr("font-size",13).attr("font-weight",d=>d[2]).attr("fill",d=>d[3]).attr("textLength",d=>d[4]).attr("lengthAdjust","spacingAndGlyphs").text(d=>d[0]);
svg.selectAll("text.h2").data(H2).join("text").attr("x",d=>d[1]).attr("y",29.5).attr("dominant-baseline","central").attr("font-size",13).attr("font-weight",d=>d[2]).attr("fill",d=>d[3]).attr("textLength",d=>d[4]).attr("lengthAdjust","spacingAndGlyphs").text(d=>d[0]);
svg.append("path").attr("d","M185,24.5L194,24.5L189.5,34.5Z").attr("fill","#ef5350");
// logo
const logo=svg.append("g").attr("transform","translate(6,1249)");
logo.append("path").attr("d","M0,8C3,5 6,5 8,6C10,1 16,-1 19,3C23,4 26,8 26,11C26,14 23,15 20,15L4,15C1,15 -1,11 0,8Z").attr("fill","#2196f3");
logo.append("path").attr("d","M3,12L8,7L13,11L19,4L24,10").attr("fill","none").attr("stroke","#fff").attr("stroke-width",1.8);
svg.append("text").attr("x",34).attr("y",1256.5).attr("dominant-baseline","central").attr("font-size",12.5).attr("fill","#444").text("TradingView");
</script></body></html>
